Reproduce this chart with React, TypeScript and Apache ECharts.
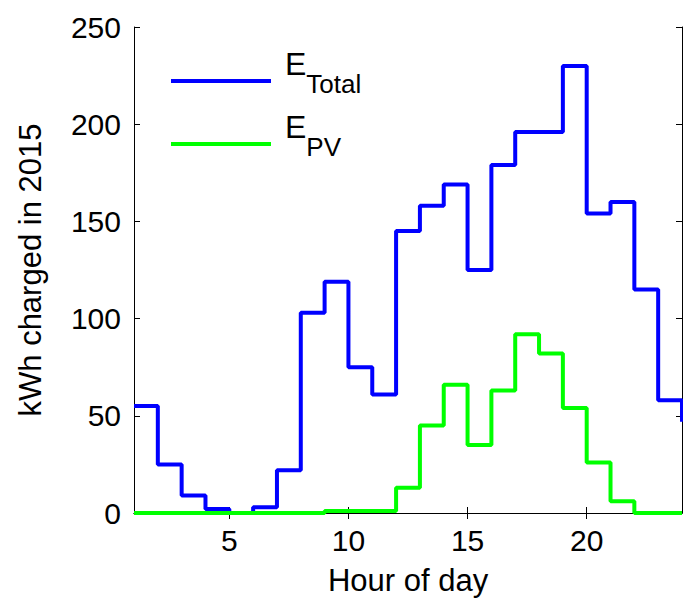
import React, { useEffect, useRef } from "react";
import * as echarts from "echarts";

const hours = [1, 2, 3, 4, 5, 6, 7, 8, 9, 10, 11, 12, 13, 14, 15, 16, 17, 18, 19, 20, 21, 22, 23, 24];
const eTotal = [55, 25, 9, 2, 0, 3, 22, 103, 119, 75, 61, 145, 158, 169, 125, 179, 196, 196, 230, 154, 160, 115, 58, 47];
const ePV = [0, 0, 0, 0, 0, 0, 0, 0, 1, 1, 1, 13, 45, 66, 35, 63, 92, 82, 54, 26, 6, 0, 0, 0];
const xTicks = [5, 10, 15, 20];
const yTicks = [0, 50, 100, 150, 200, 250];

const FONT = "'Liberation Sans', Arial, sans-serif";

export default function App() {
  const ref = useRef<HTMLDivElement>(null);
  useEffect(() => {
    if (!ref.current) return;
    const chart = echarts.init(ref.current, undefined, { renderer: "svg" });
    const axisLine = { show: true, lineStyle: { color: "#000", width: 1 } };
    const tick = { show: true, inside: true, length: 6, lineStyle: { color: "#000", width: 1 } };
    chart.setOption({
      animation: false,
      backgroundColor: "#fff",
      textStyle: { fontFamily: FONT },
      grid: { left: 134, right: 1, top: 27, bottom: 90, containLabel: false },
      legend: {
        orient: "vertical",
        left: 171,
        top: 30,
        padding: 0,
        itemWidth: 100,
        itemHeight: 4,
        itemGap: -4,
        icon: "rect",
        data: ["E_Total", "E_PV"],
        formatter: (name: string) => (name === "E_Total" ? "{a|E}{b|Total}" : "{a|E}{b|PV}"),
        textStyle: {
          color: "#000",
          rich: {
            a: { fontSize: 32, lineHeight: 32, fontFamily: FONT, color: "#000", verticalAlign: "bottom", padding: [18, 0, 17, 9] },
            b: { fontSize: 26, lineHeight: 26, fontFamily: FONT, color: "#000", verticalAlign: "bottom" },
          },
        },
      },
      xAxis: [
        {
          type: "value",
          min: 1,
          max: 24,
          position: "bottom",
          name: "Hour of day",
          nameLocation: "middle",
          nameGap: 52,
          nameTextStyle: { fontSize: 31, color: "#000", fontFamily: FONT },
          axisLine,
          axisTick: { ...tick, customValues: xTicks },
          axisLabel: { show: true, customValues: xTicks, fontSize: 30, color: "#000", margin: 12, fontFamily: FONT },
          splitLine: { show: false },
        },
        {
          type: "value",
          min: 1,
          max: 24,
          position: "top",
          axisLine,
          axisTick: { ...tick, customValues: xTicks },
          axisLabel: { show: false },
          splitLine: { show: false },
        },
      ],
      yAxis: [
        {
          type: "value",
          min: 0,
          max: 250,
          interval: 50,
          position: "left",
          name: "kWh charged in 2015",
          nameLocation: "middle",
          nameGap: 88,
          nameTextStyle: { fontSize: 31, color: "#000", fontFamily: FONT },
          axisLine,
          axisTick: { ...tick, customValues: yTicks },
          axisLabel: { show: true, fontSize: 30, color: "#000", margin: 13, fontFamily: FONT },
          splitLine: { show: false },
        },
        {
          type: "value",
          min: 0,
          max: 250,
          interval: 50,
          position: "right",
          axisLine,
          axisTick: { ...tick, customValues: yTicks },
          axisLabel: { show: false },
          splitLine: { show: false },
        },
      ],
      series: [
        {
          name: "E_Total",
          type: "line",
          step: "end",
          data: hours.map((h, i) => [h, eTotal[i]]),
          showSymbol: false,
          clip: false,
          color: "#0000ff",
          lineStyle: { color: "#0000ff", width: 4 },
          z: 3,
        },
        {
          name: "E_PV",
          type: "line",
          step: "end",
          data: hours.map((h, i) => [h, ePV[i]]),
          showSymbol: false,
          clip: false,
          color: "#00ff00",
          lineStyle: { color: "#00ff00", width: 4 },
          z: 4,
        },
      ],
    });
    return () => chart.dispose();
  }, []);
  return (
    <div
      ref={ref}
      style={{ position: "fixed", left: 0, top: 0, width: 683, height: 603, background: "#fff" }}
    />
  );
}
